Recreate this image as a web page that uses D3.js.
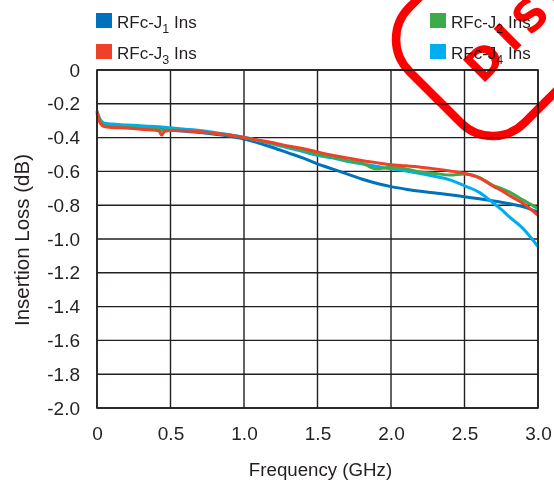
<!DOCTYPE html>
<html>
<head>
<meta charset="utf-8">
<script src="https://cdn.jsdelivr.net/npm/d3@7/dist/d3.min.js"></script>
<style>
  html, body { margin: 0; padding: 0; background: #fff; }
  svg { display: block; }
  text { font-family: "Liberation Sans", Arial, sans-serif; fill: #231f20; }
</style>
</head>
<body>
<svg id="chart" width="554" height="487"></svg>
<script>
// ---------- DATA ----------
const freq = [0, 0.02, 0.05, 0.1, 0.2, 0.3, 0.4, 0.42, 0.44, 0.46, 0.5, 0.6, 0.7, 0.8, 0.9, 1.0,
  1.1, 1.2, 1.3, 1.4, 1.5, 1.6, 1.7, 1.8, 1.9, 2.0, 2.1, 2.2, 2.3, 2.4, 2.5, 2.6, 2.7, 2.75, 2.8, 2.9, 3.0];

const j1Ins = [-0.26, -0.30, -0.325, -0.335, -0.34, -0.345, -0.35, -0.351, -0.352, -0.353, -0.355, -0.362, -0.37, -0.38, -0.392, -0.408,
  -0.432, -0.46, -0.49, -0.52, -0.555, -0.585, -0.615, -0.645, -0.67, -0.69, -0.705, -0.718, -0.728, -0.738, -0.75, -0.762, -0.775, -0.782, -0.79, -0.81, -0.84];

const j2Ins = [-0.24, -0.30, -0.33, -0.335, -0.34, -0.345, -0.35, -0.352, -0.356, -0.356, -0.355, -0.358, -0.365, -0.375, -0.385, -0.40,
  -0.418, -0.435, -0.455, -0.475, -0.50, -0.515, -0.535, -0.55, -0.585, -0.575, -0.585, -0.603, -0.612, -0.622, -0.615, -0.635, -0.685, -0.70, -0.72, -0.77, -0.82];

const j3Ins = [-0.25, -0.31, -0.335, -0.34, -0.343, -0.35, -0.357, -0.358, -0.385, -0.362, -0.358, -0.36, -0.366, -0.375, -0.385, -0.40,
  -0.415, -0.43, -0.45, -0.465, -0.485, -0.505, -0.52, -0.535, -0.548, -0.56, -0.567, -0.575, -0.585, -0.597, -0.612, -0.638, -0.69, -0.712, -0.74, -0.79, -0.86];

const j4Ins = [-0.25, -0.29, -0.315, -0.32, -0.325, -0.33, -0.335, -0.336, -0.337, -0.339, -0.342, -0.35, -0.358, -0.37, -0.383, -0.398,
  -0.418, -0.44, -0.46, -0.482, -0.505, -0.52, -0.54, -0.555, -0.57, -0.585, -0.597, -0.612, -0.63, -0.65, -0.685, -0.724, -0.79, -0.825, -0.865, -0.94, -1.045];

const seriesNames = ["RFc-J1 Ins", "RFc-J2 Ins", "RFc-J3 Ins", "RFc-J4 Ins"];
const seriesColors = ["#0071bb", "#3dab4a", "#ef4129", "#00aeef"];

const xTickValues = [0, 0.5, 1.0, 1.5, 2.0, 2.5, 3.0];
const xTickLabels = ["0", "0.5", "1.0", "1.5", "2.0", "2.5", "3.0"];
const yTickValues = [0, -0.2, -0.4, -0.6, -0.8, -1.0, -1.2, -1.4, -1.6, -1.8, -2.0];
const yTickLabels = ["0", "-0.2", "-0.4", "-0.6", "-0.8", "-1.0", "-1.2", "-1.4", "-1.6", "-1.8", "-2.0"];

const xTitle = "Frequency (GHz)";
const yTitle = "Insertion Loss (dB)";
const stampText = "DISCONTINUED";

// ---------- CHART ----------
const svg = d3.select("#chart");
const pL = 97, pR = 538, pT = 70, pB = 408;

const x = d3.scaleLinear().domain([0, 3]).range([pL, pR]);
const y = d3.scaleLinear().domain([-2, 0]).range([pB, pT]);

// grid
const grid = svg.append("g");
grid.selectAll("line.v").data(xTickValues).join("line").attr("class", "v")
  .attr("x1", d => x(d)).attr("x2", d => x(d))
  .attr("y1", pT).attr("y2", pB)
  .attr("stroke", "#231f20").attr("stroke-width", 1.4);
grid.selectAll("line.h").data(yTickValues).join("line").attr("class", "h")
  .attr("y1", d => y(d)).attr("y2", d => y(d))
  .attr("x1", pL).attr("x2", pR)
  .attr("stroke", "#231f20").attr("stroke-width", 1.4);

// axes (labels only)
const xAxis = d3.axisBottom(x).tickValues(xTickValues)
  .tickFormat((d, i) => xTickLabels[i]).tickSize(0).tickPadding(18.5);
const gx = svg.append("g").attr("transform", `translate(0,${pB})`).call(xAxis);
gx.select(".domain").remove();
gx.selectAll("text").style("font-size", "19px").attr("fill", "#231f20")
  .style("font-family", "'Liberation Sans', Arial, sans-serif");

const yAxis = d3.axisLeft(y).tickValues(yTickValues)
  .tickFormat((d, i) => yTickLabels[i]).tickSize(0).tickPadding(17);
const gy = svg.append("g").attr("transform", `translate(${pL},0)`).call(yAxis);
gy.select(".domain").remove();
gy.selectAll("text").style("font-size", "19px").attr("fill", "#231f20")
  .style("font-family", "'Liberation Sans', Arial, sans-serif");

// titles
svg.append("text").attr("x", (pL + pR) / 2 + 3).attr("y", 476)
  .attr("text-anchor", "middle").style("font-size", "18.7px").text(xTitle);
svg.append("text").attr("transform", "translate(29,240) rotate(-90)")
  .attr("text-anchor", "middle").style("font-size", "20.5px").text(yTitle);

// lines
const allSeries = [j1Ins, j2Ins, j3Ins, j4Ins];
const drawOrder = [0, 3, 1, 2];
const line = d3.line().x((d, i) => x(freq[i])).y(d => y(d)).curve(d3.curveMonotoneX);
drawOrder.forEach(k => {
  svg.append("path").datum(allSeries[k])
    .attr("d", line)
    .attr("fill", "none")
    .attr("stroke", seriesColors[k])
    .attr("stroke-width", 3)
    .attr("stroke-linejoin", "round");
});

// legend
const legendPos = [[96, 13], [430, 13], [96, 44], [430, 44]];
seriesNames.forEach((name, k) => {
  const [lx, ly] = legendPos[k];
  svg.append("rect").attr("x", lx).attr("y", ly).attr("width", 16).attr("height", 15)
    .attr("fill", seriesColors[k]);
  const parts = name.match(/^(RFc-J)(\d)( Ins)$/);
  const t = svg.append("text").attr("x", lx + 21).attr("y", ly + 15).style("font-size", "17px");
  t.append("tspan").text(parts[1]);
  t.append("tspan").attr("dy", 5).style("font-size", "12.5px").text(parts[2]);
  t.append("tspan").attr("dy", -5).text(parts[3]);
});

// frame
svg.append("rect").attr("x", pL).attr("y", pT)
  .attr("width", pR - pL).attr("height", pB - pT)
  .attr("fill", "none").attr("stroke", "#231f20").attr("stroke-width", 1.6);

// stamp
const stamp = svg.append("g")
  .attr("transform", "translate(435,97) rotate(-45)")
  .style("mix-blend-mode", "multiply");
stamp.append("rect").attr("x", 0).attr("y", -81.5).attr("width", 520).attr("height", 163)
  .attr("rx", 45).attr("fill", "none").attr("stroke", "#ff0000").attr("stroke-width", 8.5);
stamp.append("text").attr("x", 42).attr("y", 24.7)
  .style("font-family", "'DejaVu Sans', sans-serif").style("font-weight", "bold")
  .style("font-size", "43px").style("letter-spacing", "8px")
  .style("fill", "#ff0000").text(stampText);
</script>
</body>
</html>
